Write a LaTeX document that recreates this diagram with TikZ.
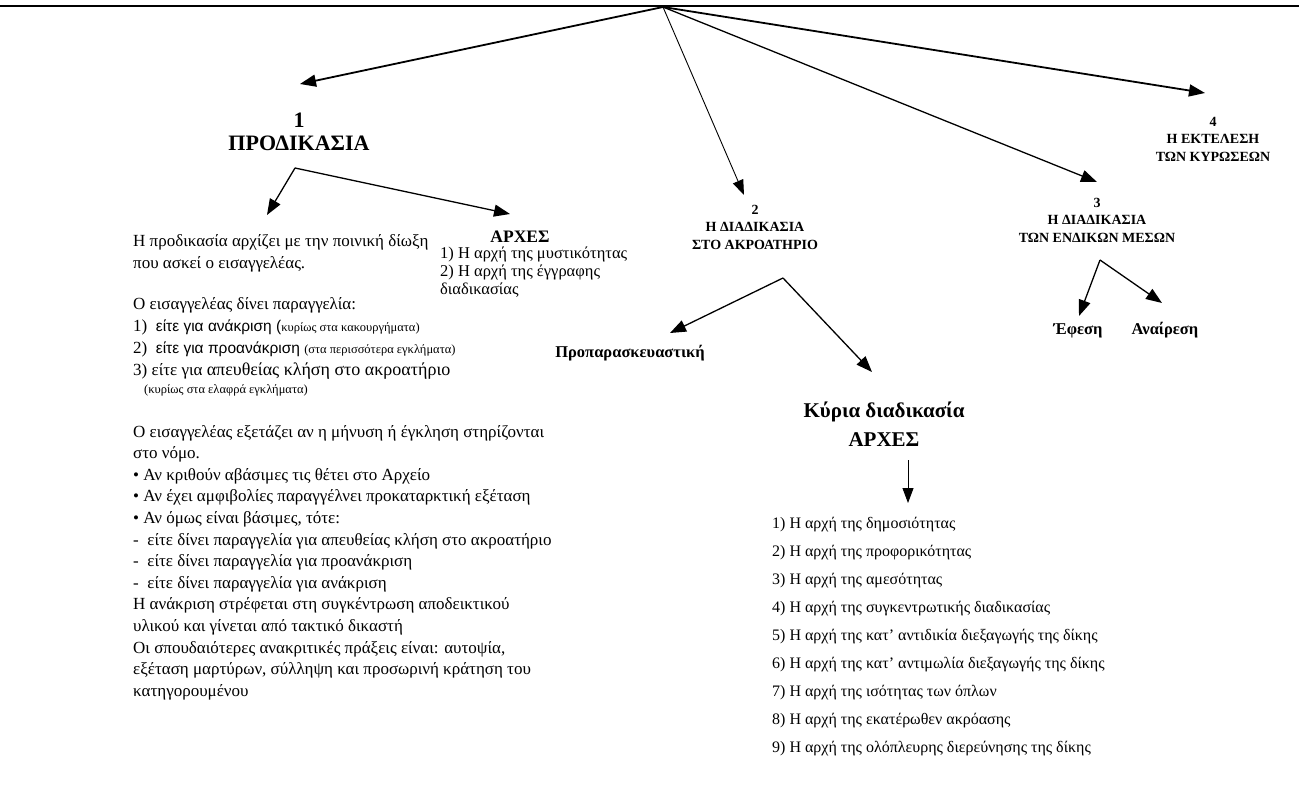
\documentclass[tikz,border=0pt]{standalone}
\usepackage{fontspec}
\setmainfont{Liberation Serif}
\newfontfamily\arialf{Liberation Sans}
\usetikzlibrary{arrows.meta}
\tikzset{
  txt/.style={font=\fontsize{17}{20}\selectfont, inner sep=0pt, anchor=base west},
  txtl/.style={font=\fontsize{16.5}{20}\selectfont, inner sep=0pt, anchor=base west},
  txtm/.style={font=\fontsize{16}{20}\selectfont, inner sep=0pt, anchor=base west},
  hdsmall/.style={font=\fontsize{14}{17.5}\selectfont\bfseries, inner sep=0pt, anchor=north, align=center},
  hdlab/.style={font=\fontsize{16.5}{18}\selectfont\bfseries, inner sep=0pt, anchor=base},
  hdbig/.style={font=\fontsize{22}{23}\selectfont\bfseries, inner sep=0pt, anchor=north, align=center},
  hdkyr/.style={font=\fontsize{21}{29}\selectfont\bfseries, inner sep=0pt, anchor=north, align=center},
  hdmid/.style={font=\fontsize{17.5}{20}\selectfont\bfseries, inner sep=0pt, anchor=base},
  arrT/.style={line width=1.8pt, -{Triangle[length=16pt,width=12pt]}},
  arrM/.style={line width=1.3pt, -{Triangle[length=16pt,width=12pt]}},
  arrS/.style={line width=0.9pt, -{Triangle[length=15pt,width=11pt]}},
}
\begin{document}
\begin{tikzpicture}[x=1pt,y=-1pt]
\useasboundingbox[fill=white] (0,0) rectangle (1299,797);
% top rule
\coordinate (L) at (0,6);
\coordinate (R) at (1299,6);
\draw[line width=2pt] (L) -- (R);
\coordinate (apex) at (663,7);

% ---- level 1 labels
\node[hdbig] (n1) at (299,113) {1\\ΠΡΟΔΙΚΑΣΙΑ};
\node[hdsmall] (n2) at (755,205) {2\\Η ΔΙΑΔΙΚΑΣΙΑ\\ΣΤΟ ΑΚΡΟΑΤΗΡΙΟ};
\node[hdsmall] (n3) at (1097,198) {3\\Η ΔΙΑΔΙΚΑΣΙΑ\\ΤΩΝ ΕΝΔΙΚΩΝ ΜΕΣΩΝ};
\node[hdsmall] (n4) at (1213,117) {4\\Η ΕΚΤΕΛΕΣΗ\\ΤΩΝ ΚΥΡΩΣΕΩΝ};

\coordinate (n1in) at (300,84);
\coordinate (n2in) at (744,195);
\coordinate (n3in) at (1097,182);
\coordinate (n4in) at (1205,93);
\draw[arrT] (apex) -- (n1in);
\draw[arrS] (apex) -- (n2in);
\draw[arrM] (apex) -- (n3in);
\draw[arrT] (apex) -- (n4in);

% ---- branch of 1
\coordinate (b1) at (295,168);
\coordinate (b1l) at (267,215);
\coordinate (b1r) at (510,214);
\draw[arrM] (b1) -- (b1l);
\draw[arrM] (b1) -- (b1r);

% ΑΡΧΕΣ of prodikasia
\node[hdmid] (ar1) at (520,242) {ΑΡΧΕΣ};
\node[txtl] (ar1a) at (440,258) {1) Η αρχή της μυστικότητας};
\node[txtl] (ar1b) at (440,276) {2) Η αρχή της έγγραφης};
\node[txtl] (ar1c) at (440,294) {διαδικασίας};

% left text
\node[txt] (t1) at (133,246) {Η προδικασία αρχίζει με την ποινική δίωξη};
\node[txt] (t2) at (133,268) {που ασκεί ο εισαγγελέας.};
\node[txt] (t3) at (133,309) {Ο εισαγγελέας δίνει παραγγελία:};
\node[txt] (t4) at (133,331) {1)\ \ {\arialf\fontsize{15.5}{18}\selectfont είτε για ανάκριση (}{\fontsize{12.5}{14}\selectfont κυρίως στα κακουργήματα)}};
\node[txt] (t5) at (133,353) {2)\ \ {\arialf\fontsize{15.5}{18}\selectfont είτε για προανάκριση} {\fontsize{12.5}{14}\selectfont (στα περισσότερα εγκλήματα)}};
\node[txt] (t6) at (133,375) {3) είτε για {\fontsize{18}{20}\selectfont απευθείας κλήση στο ακροατήριο}};
\node[txt, font=\fontsize{12.5}{14}\selectfont] (t7) at (144,393) {(κυρίως στα ελαφρά εγκλήματα)};
\node[txt] (t8) at (133,437) {Ο εισαγγελέας εξετάζει αν η μήνυση ή έγκληση στηρίζονται};
\node[txt] (t9) at (133,458.6) {στο νόμο.};
\node[txt] (t10) at (133,480.2) {• Αν κριθούν αβάσιμες τις θέτει στο Αρχείο};
\node[txt] (t11) at (133,501.8) {• Αν έχει αμφιβολίες παραγγέλνει προκαταρκτική εξέταση};
\node[txt] (t12) at (133,523.4) {• Αν όμως είναι βάσιμες, τότε:};
\node[txt] (t13) at (133,545) {-\ \ είτε δίνει παραγγελία για απευθείας κλήση στο ακροατήριο};
\node[txt] (t14) at (133,566.6) {-\ \ είτε δίνει παραγγελία για προανάκριση};
\node[txt] (t15) at (133,588.2) {-\ \ είτε δίνει παραγγελία για ανάκριση};
\node[txt] (t16) at (133,609.8) {Η ανάκριση στρέφεται στη συγκέντρωση αποδεικτικού};
\node[txt] (t17) at (133,631.4) {υλικού και γίνεται από τακτικό δικαστή};
\node[txt] (t18) at (133,653) {Οι σπουδαιότερες ανακριτικές πράξεις είναι: αυτοψία,};
\node[txt] (t19) at (133,674.6) {εξέταση μαρτύρων, σύλληψη και προσωρινή κράτηση του};
\node[txt] (t20) at (133,696.2) {κατηγορουμένου};

% ---- branch of 2
\coordinate (b2) at (783,278);
\coordinate (b2l) at (670,333);
\coordinate (b2r) at (872,372);
\draw[arrM] (b2) -- (b2l);
\draw[arrM] (b2) -- (b2r);
\node[hdlab] (prop) at (630,357) {Προπαρασκευαστική};
\node[hdkyr] (kyr) at (884,402) {Κύρια διαδικασία\\ΑΡΧΕΣ};
\coordinate (vtop) at (908,460);
\coordinate (vbot) at (908,503);
\draw[arrS] (vtop) -- (vbot);

% list of principles
\node[txtm] (p1) at (772,528) {1) Η αρχή της δημοσιότητας};
\node[txtm] (p2) at (772,556) {2) Η αρχή της προφορικότητας};
\node[txtm] (p3) at (772,584) {3) Η αρχή της αμεσότητας};
\node[txtm] (p4) at (772,612) {4) Η αρχή της συγκεντρωτικής διαδικασίας};
\node[txtm] (p5) at (772,640) {5) Η αρχή της κατ’ αντιδικία διεξαγωγής της δίκης};
\node[txtm] (p6) at (772,668) {6) Η αρχή της κατ’ αντιμωλία διεξαγωγής της δίκης};
\node[txtm] (p7) at (772,696) {7) Η αρχή της ισότητας των όπλων};
\node[txtm] (p8) at (772,724) {8) Η αρχή της εκατέρωθεν ακρόασης};
\node[txtm] (p9) at (772,752) {9) Η αρχή της ολόπλευρης διερεύνησης της δίκης};

% ---- branch of 3
\coordinate (b3) at (1100,260);
\coordinate (b3l) at (1079,316);
\coordinate (b3r) at (1162,303);
\draw[arrM] (b3) -- (b3l);
\draw[arrM] (b3) -- (b3r);
\node[hdlab] (efe) at (1078,334) {Έφεση};
\node[hdlab] (ana) at (1165,334) {Αναίρεση};
\end{tikzpicture}
\end{document}
